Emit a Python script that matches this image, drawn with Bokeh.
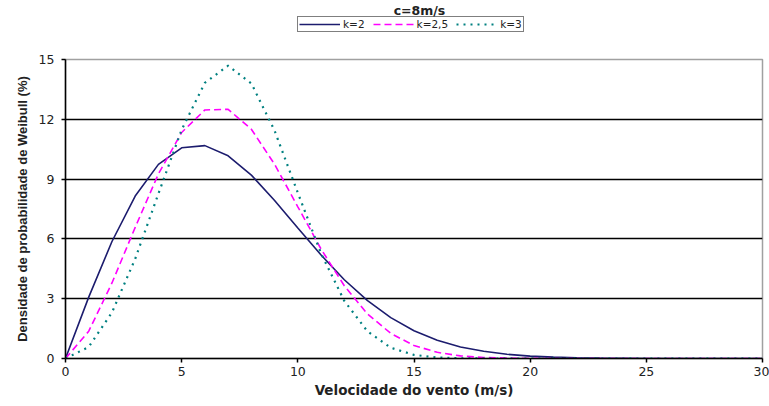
from bokeh.plotting import figure
from bokeh.layouts import column
from bokeh.models import Range1d, FixedTicker, Legend, LegendItem, ColumnDataSource, Label
from bokeh.embed import file_html
from bokeh.resources import INLINE

# ---- data ----
speed = list(range(0, 31))
dens_k2 = [0.0, 3.08, 5.87, 8.15, 9.74, 10.57, 10.68, 10.17, 9.20, 7.93, 6.55,
           5.19, 3.95, 2.90, 2.05, 1.39, 0.92, 0.58, 0.36, 0.21, 0.12,
           0.07, 0.04, 0.02, 0.01, 0.0, 0.0, 0.0, 0.0, 0.0, 0.0]
dens_k25 = [0.0, 1.37, 3.79, 6.58, 9.26, 11.34, 12.47, 12.50, 11.50, 9.74, 7.61,
            5.49, 3.65, 2.23, 1.26, 0.65, 0.31, 0.13, 0.05, 0.02, 0.01,
            0.0, 0.0, 0.0, 0.0, 0.0, 0.0, 0.0, 0.0, 0.0, 0.0]
dens_k3 = [0.0, 0.58, 2.31, 5.00, 8.27, 11.48, 13.83, 14.69, 13.80, 11.43, 8.31,
           5.27, 2.89, 1.36, 0.54, 0.18, 0.05, 0.01, 0.0, 0.0, 0.0,
           0.0, 0.0, 0.0, 0.0, 0.0, 0.0, 0.0, 0.0, 0.0, 0.0]
series_labels = ["k=2", "k=2,5", "k=3"]
x_ticks = [0, 5, 10, 15, 20, 25, 30]
y_ticks = [0, 3, 6, 9, 12, 15]
title_text = "c=8m/s"
x_label = "Velocidade do vento (m/s)"
y_label = "Densidade de probabilidade de Weibull (%)"

# styles
FONT = "Liberation Sans"
WIDE = "DejaVu Sans"
TXT = "#222222"
styles = [dict(line_color="#1c1c6e", line_width=1.6),
          dict(line_color="#ff00ff", line_width=1.6, line_dash="7 4"),
          dict(line_color="#008080", line_width=2.2, line_dash="2 5")]

W = 769
HEAD_H = 36
LEFT = 65
RIGHT = 7

# ---- header: title + legend (legend glyphs come from hidden, off-range lines) ----
head = figure(width=W, height=HEAD_H, output_backend="svg", toolbar_location=None,
              x_range=Range1d(0, 1), y_range=Range1d(0, 1),
              x_axis_type=None, y_axis_type=None,
              min_border_left=LEFT, min_border_right=RIGHT,
              min_border_top=0, min_border_bottom=0)
head.outline_line_color = None
head.xgrid.visible = False
head.ygrid.visible = False
hidden = ColumnDataSource(dict(x=[-2, -1], y=[-2, -1]))
head_renderers = [head.line("x", "y", source=hidden, **st) for st in styles]
head.add_layout(Label(x=419 - LEFT, y=HEAD_H - 10, x_units="screen", y_units="screen",
                      text=title_text, text_align="center", text_baseline="middle",
                      text_font=WIDE, text_font_style="bold", text_font_size="12.5px",
                      text_color=TXT))
legend = Legend(items=[LegendItem(label=lab, renderers=[r])
                       for lab, r in zip(series_labels, head_renderers)],
                orientation="horizontal", location=(297 - LEFT, HEAD_H - 32),
                border_line_color="black", border_line_width=1.6,
                background_fill_color="white", background_fill_alpha=0,
                label_text_font=WIDE, label_text_font_size="10.5px", label_text_color=TXT,
                glyph_width=41, glyph_height=10, label_standoff=3, spacing=8,
                padding=1, margin=0, label_height=10)
head.add_layout(legend, "center")

# ---- main chart ----
p = figure(width=W, height=406 - HEAD_H, output_backend="svg", toolbar_location=None,
           x_range=Range1d(x_ticks[0], x_ticks[-1]), y_range=Range1d(y_ticks[0], y_ticks[-1]),
           min_border_left=LEFT, min_border_right=RIGHT, min_border_top=59 - HEAD_H,
           min_border_bottom=48)
p.background_fill_color = "white"
p.border_fill_color = "white"
p.outline_line_color = "#a0a0a0"
p.outline_line_width = 1.5

src = ColumnDataSource(dict(x=speed, a=dens_k2, b=dens_k25, c=dens_k3))
for col, st in zip(["a", "b", "c"], styles):
    p.line("x", col, source=src, **st)

p.xgrid.visible = False
p.ygrid.ticker = FixedTicker(ticks=y_ticks[1:-1])
p.ygrid.grid_line_color = "black"
p.ygrid.grid_line_width = 1.5

for ax in (p.xaxis[0], p.yaxis[0]):
    ax.axis_line_color = "black"
    ax.axis_line_width = 1.5
    ax.major_tick_line_color = "black"
    ax.major_tick_line_width = 1.5
    ax.major_tick_in = 0
    ax.major_tick_out = 4
    ax.minor_tick_line_color = None
    ax.major_label_text_font = WIDE
    ax.major_label_text_font_size = "12.5px"
    ax.major_label_text_color = TXT
    ax.axis_label_text_font_style = "bold"
    ax.axis_label_text_color = TXT
p.xaxis.ticker = FixedTicker(ticks=x_ticks)
p.yaxis.ticker = FixedTicker(ticks=y_ticks)
p.xaxis.axis_label = x_label
p.yaxis.axis_label = y_label
p.xaxis.axis_label_text_font = WIDE
p.xaxis.axis_label_text_font_size = "13.5px"
p.yaxis.axis_label_text_font = FONT
p.yaxis.axis_label_text_font_size = "13px"
p.xaxis.major_label_standoff = 4
p.xaxis.axis_label_standoff = 3
p.yaxis.major_label_standoff = 7
p.yaxis.axis_label_standoff = 6

open("out.html", "w").write(file_html(column(head, p, spacing=0), INLINE))
